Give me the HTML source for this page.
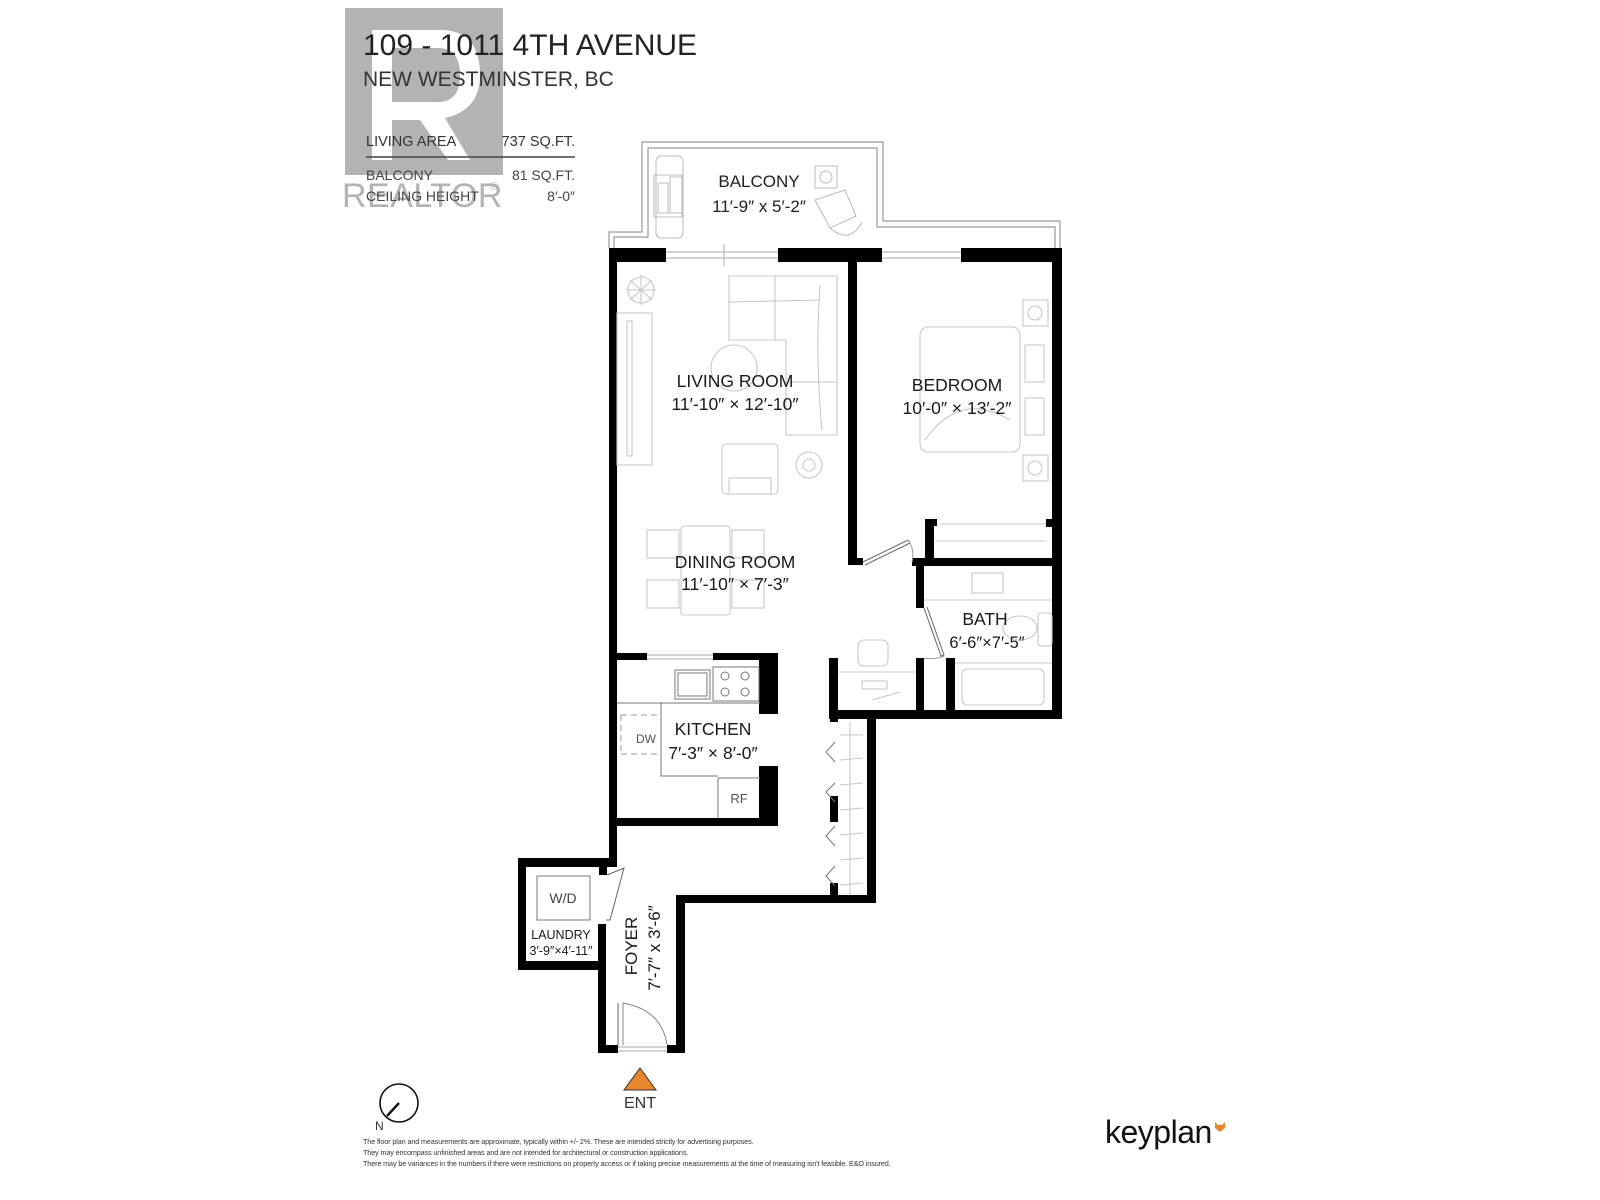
<!DOCTYPE html>
<html><head><meta charset="utf-8"><style>
html,body{margin:0;padding:0;background:#fff;width:1600px;height:1200px;overflow:hidden}
svg{display:block}
text{font-family:"Liberation Sans","DejaVu Sans",sans-serif}
</style></head><body>
<svg width="1600" height="1200" viewBox="0 0 1600 1200" xmlns="http://www.w3.org/2000/svg">
<!-- REALTOR watermark -->
<rect x="345" y="8" width="158" height="167" fill="#b3b3b3"/>
<path d="M372 30 H440 Q480 30 480 75 Q480 110 445 118 L470 160 H448 L420 120 H392 V160 H372 Z M392 48 V102 H438 Q460 102 460 75 Q460 48 438 48 Z" fill="#fff"/>
<text x="342" y="207" font-size="34" fill="#b3b3b3" letter-spacing="0.5">REALTOR</text>
<text x="490" y="190" font-size="11" fill="#b3b3b3">®</text>

<!-- header -->
<text x="363" y="55" font-size="30" fill="#222">109 - 1011 4TH AVENUE</text>
<text x="363" y="86" font-size="21" fill="#333">NEW WESTMINSTER, BC</text>
<text x="366" y="146" font-size="14.5" fill="#333">LIVING AREA</text>
<text x="575" y="146" font-size="14.5" fill="#333" text-anchor="end">737 SQ.FT.</text>
<line x1="366" y1="157" x2="575" y2="157" stroke="#444" stroke-width="1.5"/>
<text x="366" y="180" font-size="14" fill="#444">BALCONY</text>
<text x="575" y="180" font-size="14" fill="#444" text-anchor="end">81 SQ.FT.</text>
<text x="366" y="201" font-size="14" fill="#444">CEILING HEIGHT</text>
<text x="575" y="201" font-size="14" fill="#444" text-anchor="end">8′-0″</text>

<!-- balcony outline (double line) -->
<g fill="none" stroke="#999" stroke-width="1.2">
<path d="M609 248 V232 H642 V142 H883 V221 H1060 V248"/>
<path d="M614 248 V237 H648 V148 H877 V227 H1055 V248"/>
</g>
<g fill="none" stroke="#bbb" stroke-width="1">
<rect x="656" y="156" width="27" height="82" rx="5"/>
<rect x="654" y="175" width="28" height="42"/>
<rect x="658" y="183" width="10" height="30"/>
<rect x="670" y="177" width="13" height="36"/>
<rect x="815" y="166" width="22" height="22"/>
<circle cx="826" cy="177" r="6"/>
<path d="M815 200 L845 190 L856 216 L830 228 Z M830 228 Q850 245 862 222"/>
</g>
<text x="759" y="187" font-size="17" fill="#222" text-anchor="middle">BALCONY</text>
<text x="759" y="212" font-size="17" fill="#222" text-anchor="middle">11′-9″  x  5′-2″</text>

<!-- WALLS -->
<g fill="#000">
<rect x="609" y="248" width="57" height="14"/>
<rect x="778" y="248" width="104" height="14"/>
<rect x="961" y="248" width="101" height="14"/>
<rect x="609" y="248" width="8" height="618"/>
<rect x="1052" y="248" width="10" height="471"/>
<rect x="848" y="262" width="9" height="303"/>
<rect x="848" y="558" width="15" height="7"/>
<rect x="912" y="558" width="150" height="8"/>
<rect x="925" y="519" width="9" height="45"/>
<rect x="925" y="519" width="12" height="7"/>
<rect x="1046" y="519" width="8" height="8"/>
<rect x="916" y="566" width="8" height="42"/>
<rect x="916" y="658" width="8" height="55"/>
<rect x="946" y="658" width="9" height="55"/>
<rect x="830" y="710" width="232" height="9"/>
<rect x="829" y="658" width="9" height="61"/>
<rect x="830" y="710" width="8" height="12"/>
<rect x="830" y="796" width="8" height="26"/>
<rect x="830" y="883" width="8" height="20"/>
<rect x="867" y="711" width="9" height="192"/>
<rect x="676" y="895" width="200" height="8"/>
<rect x="676" y="895" width="9" height="157"/>
<rect x="598" y="1045" width="20" height="8"/>
<rect x="667" y="1045" width="18" height="8"/>
<rect x="598" y="924" width="8" height="129"/>
<rect x="599" y="866" width="8" height="9"/>
<rect x="518" y="858" width="99" height="9"/>
<rect x="518" y="858" width="8" height="112"/>
<rect x="518" y="961" width="88" height="9"/>
<rect x="617" y="653" width="30" height="7"/>
<rect x="713" y="653" width="65" height="7"/>
<rect x="759" y="653" width="19" height="61"/>
<rect x="759" y="766" width="19" height="60"/>
<rect x="617" y="818" width="161" height="8"/>
</g>

<!-- windows -->
<g fill="none" stroke="#aaa" stroke-width="1">
<line x1="666" y1="252" x2="778" y2="252"/><line x1="666" y1="258" x2="778" y2="258"/>
<line x1="724" y1="244" x2="724" y2="266"/>
<line x1="882" y1="252" x2="961" y2="252"/><line x1="882" y1="258" x2="961" y2="258"/>
<line x1="647" y1="655" x2="713" y2="655"/><line x1="647" y1="659" x2="713" y2="659"/>
<line x1="618" y1="1047" x2="667" y2="1047"/><line x1="618" y1="1051" x2="667" y2="1051"/>
</g>

<!-- doors -->
<g fill="none" stroke="#666" stroke-width="1">
<path d="M863 562 L908 540 L910 543 L865 565"/>
<path d="M908 540 Q915 550 912 562" stroke="#999"/>
<path d="M924 608 L941 656 L944 655 L927 607"/>
<path d="M944 656 Q935 660 924 658" stroke="#999"/>
<path d="M607 875 L624 868 L610 920 L606 920"/>
<path d="M623 1045 V1003 Q662 1010 667 1045" stroke="#888"/>
<line x1="618" y1="1003" x2="618" y2="1045"/>
</g>

<!-- furniture -->
<g fill="none" stroke="#c8c8c8" stroke-width="1.1">
<circle cx="641" cy="290" r="13"/>
<path d="M630 280 L652 300 M652 280 L630 300 M641 275 V305 M626 290 H656"/>
<rect x="617" y="313" width="35" height="152"/>
<rect x="627" y="321" width="5" height="135"/>
<path d="M729 276 H837 V435 H786 V340 H729 Z"/>
<line x1="775" y1="276" x2="775" y2="340"/>
<line x1="729" y1="302" x2="820" y2="300"/>
<line x1="786" y1="382" x2="837" y2="382"/>
<path d="M820 285 Q815 360 822 430"/>
<circle cx="734" cy="368" r="23"/>
<rect x="722" y="444" width="56" height="50" rx="4"/>
<rect x="729" y="478" width="42" height="16"/>
<circle cx="809" cy="465" r="13"/><circle cx="809" cy="465" r="6"/>
<rect x="681" y="526" width="49" height="89" rx="3"/>
<rect x="647" y="530" width="32" height="28"/><rect x="647" y="580" width="32" height="28"/>
<rect x="732" y="530" width="32" height="28"/><rect x="732" y="580" width="32" height="28"/>
<rect x="1023" y="300" width="25" height="26"/><circle cx="1035" cy="313" r="7"/>
<rect x="1023" y="455" width="25" height="26"/><circle cx="1035" cy="468" r="7"/>
<rect x="920" y="327" width="100" height="125" rx="8"/>
<rect x="1025" y="345" width="19" height="37"/><rect x="1025" y="398" width="19" height="37"/>
<path d="M925 440 Q960 390 1010 420"/>
<line x1="940" y1="524" x2="1046" y2="524"/>
<line x1="935" y1="541" x2="1046" y2="541"/>
<rect x="858" y="640" width="30" height="26" rx="6"/>
<line x1="838" y1="672" x2="916" y2="672"/>
<rect x="862" y="681" width="25" height="8"/>
<line x1="872" y1="700" x2="900" y2="692"/>
<line x1="924" y1="600" x2="1052" y2="600"/>
<rect x="972" y="573" width="31" height="20"/>
<rect x="1038" y="613" width="14" height="33" rx="3"/>
<ellipse cx="1020" cy="628" rx="17" ry="12"/>
<line x1="955" y1="663" x2="1052" y2="663"/>
<rect x="962" y="669" width="82" height="36" rx="5"/>
<line x1="850" y1="722" x2="850" y2="895"/>
<line x1="840" y1="735" x2="863" y2="735"/><line x1="840" y1="760" x2="863" y2="758"/>
<line x1="840" y1="785" x2="863" y2="783"/><line x1="840" y1="810" x2="863" y2="808"/>
<line x1="840" y1="835" x2="863" y2="833"/><line x1="840" y1="860" x2="863" y2="858"/>
<line x1="840" y1="885" x2="863" y2="883"/>
</g>
<g fill="none" stroke="#777" stroke-width="1">
<path d="M835 742 L826 752 L835 762"/><path d="M835 783 L826 792 L835 802"/>
<path d="M835 826 L826 836 L835 846"/><path d="M835 866 L826 876 L835 886"/>
</g>

<!-- kitchen fixtures -->
<g fill="none" stroke="#777" stroke-width="1">
<path d="M617 703 H661 M661 703 H760 M661 703 V776 H718 M718 778 V818 M718 778 H760"/>
<rect x="675" y="670" width="35" height="29"/>
<rect x="678" y="673" width="29" height="23"/>
<rect x="713" y="667" width="46" height="34"/>
<circle cx="725" cy="676" r="4"/><circle cx="745" cy="676" r="4"/>
<circle cx="725" cy="692" r="4"/><circle cx="745" cy="692" r="4"/>
<rect x="537" y="876" width="53" height="44"/>
</g>
<g fill="none" stroke="#999" stroke-width="1" stroke-dasharray="6 4">
<path d="M621 715 H661 M621 754 H661 M621 715 V754"/>
</g>

<!-- labels -->
<g fill="#1a1a1a" text-anchor="middle" font-size="17.5">
<text x="735" y="387">LIVING ROOM</text>
<text x="735" y="410">11′-10″ × 12′-10″</text>
<text x="957" y="391">BEDROOM</text>
<text x="957" y="414">10′-0″ ×  13′-2″</text>
<text x="735" y="568">DINING ROOM</text>
<text x="735" y="590">11′-10″ ×   7′-3″</text>
<text x="985" y="625">BATH</text>
<text x="987" y="648" font-size="16.5">6′-6″×7′-5″</text>
<text x="713" y="735">KITCHEN</text>
<text x="713" y="759">7′-3″ × 8′-0″</text>
<text x="646" y="743" font-size="12" fill="#555">DW</text>
<text x="739" y="803" font-size="13" fill="#555">RF</text>
<text x="563" y="903" font-size="14" fill="#444">W/D</text>
<text x="561" y="939" font-size="12.5">LAUNDRY</text>
<text x="561" y="955" font-size="12.5">3′-9″×4′-11″</text>
<text transform="translate(637,946) rotate(-90)" font-size="17">FOYER</text>
<text transform="translate(660,948) rotate(-90)" font-size="17">7′-7″ x 3′-6″</text>
</g>

<polygon points="640,1068 656,1090 624,1090" fill="#e8862e" stroke="#333" stroke-width="1"/>
<text x="640" y="1108" font-size="16" fill="#333" text-anchor="middle">ENT</text>

<circle cx="399" cy="1103" r="19" fill="none" stroke="#111" stroke-width="1.6"/>
<line x1="399" y1="1103" x2="387" y2="1116" stroke="#111" stroke-width="2.4"/>
<text x="375" y="1130" font-size="12" fill="#333">N</text>

<g font-size="7.2" fill="#333" letter-spacing="-0.1">
<text x="363" y="1144">The floor plan and measurements are approximate, typically within +/- 2%. These are intended strictly for advertising purposes.</text>
<text x="363" y="1155">They may encompass unfinished areas and are not intended for architectural or construction applications.</text>
<text x="363" y="1166">There may be variances in the numbers if there were restrictions on property access or if taking precise measurements at the time of measuring isn't feasible. E&amp;O insured.</text>
</g>

<text x="1105" y="1143" font-size="32" fill="#111" letter-spacing="-0.5">keyplan</text>
<path d="M1215 1122 L1218 1125 L1222 1125 L1225 1122 L1225 1128 L1220 1132 L1215 1128 Z" fill="#e8862e"/>
</svg>
</body></html>
